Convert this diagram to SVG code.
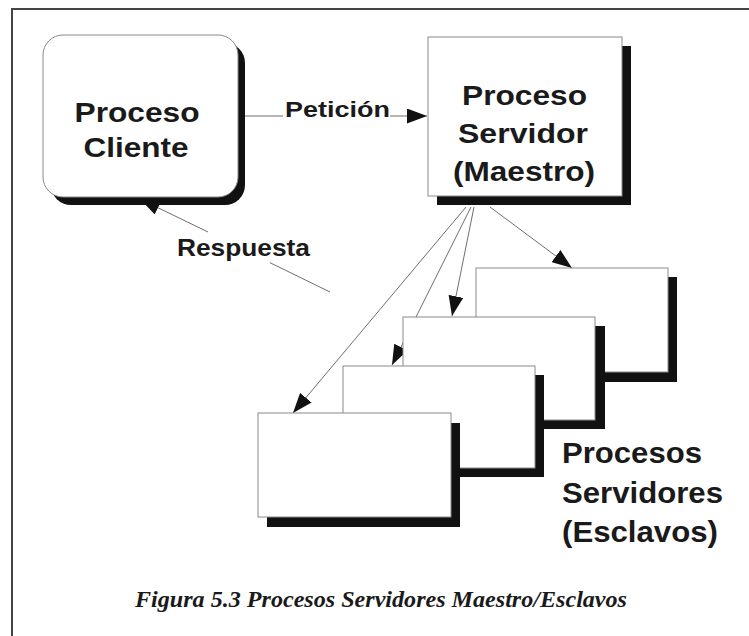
<svg xmlns="http://www.w3.org/2000/svg" width="749" height="636" viewBox="0 0 749 636">
<style>
.frame{stroke:#444;stroke-width:2;fill:none}
.box{fill:#fff;stroke:#8a8a8a;stroke-width:1}
.sh{fill:#111;stroke:none}
.ln{stroke:#6e6e6e;stroke-width:1;fill:none}
.lbl{font-family:"Liberation Sans",Arial,sans-serif;font-weight:bold;fill:#1a1a1a}
.cap{font-family:"Liberation Serif","Times New Roman",serif;font-weight:bold;font-style:italic;fill:#1a1a1a}
</style>
<defs>
<marker id="ah" viewBox="0 0 20 15" refX="20" refY="7.5" markerWidth="20" markerHeight="15" markerUnits="userSpaceOnUse" orient="auto">
<path d="M0,0 L20,7.5 L0,15 z" fill="#111"/>
</marker>
</defs>
<rect width="749" height="636" fill="#fff"/>
<path class="frame" d="M12,636 L12,9 L749,9"/>

<g id="connectors">
<line class="ln" x1="245" y1="116" x2="283" y2="116"/>
<line class="ln" x1="390" y1="116" x2="427" y2="116" marker-end="url(#ah)"/>
<line class="ln" x1="330" y1="292" x2="270" y2="262.7"/>
<line class="ln" x1="208" y1="232" x2="140" y2="199" marker-end="url(#ah)"/>
<line class="ln" x1="466" y1="207" x2="293" y2="413" marker-end="url(#ah)"/>
<line class="ln" x1="471" y1="207" x2="392" y2="365" marker-end="url(#ah)"/>
<line class="ln" x1="474" y1="207" x2="452" y2="316" marker-end="url(#ah)"/>
<line class="ln" x1="490" y1="207" x2="572" y2="268" marker-end="url(#ah)"/>
</g>

<g id="cliente">
<rect class="sh" x="51" y="43" width="194" height="162" rx="20" ry="20"/>
<rect class="box" x="43" y="35" width="195" height="162" rx="20" ry="20"/>
<text class="lbl" x="137" y="122" font-size="28" text-anchor="middle" textLength="125" lengthAdjust="spacingAndGlyphs">Proceso</text>
<text class="lbl" x="136" y="157" font-size="28" text-anchor="middle" textLength="105" lengthAdjust="spacingAndGlyphs">Cliente</text>
</g>

<g id="servidor">
<rect class="sh" x="437" y="46" width="194" height="159"/>
<rect class="box" x="428" y="37" width="194" height="159"/>
<text class="lbl" x="524.5" y="105" font-size="28" text-anchor="middle" textLength="125" lengthAdjust="spacingAndGlyphs">Proceso</text>
<text class="lbl" x="523" y="143" font-size="28" text-anchor="middle" textLength="130" lengthAdjust="spacingAndGlyphs">Servidor</text>
<text class="lbl" x="524" y="181" font-size="28" text-anchor="middle" textLength="142" lengthAdjust="spacingAndGlyphs">(Maestro)</text>
</g>

<g id="esclavo4">
<rect class="sh" x="485" y="277" width="192" height="105"/>
<rect class="box" x="476" y="268" width="192" height="104"/>
</g>
<g id="esclavo3">
<rect class="sh" x="412" y="326" width="193" height="103"/>
<rect class="box" x="403" y="317" width="192" height="103"/>
</g>
<g id="esclavo2">
<rect class="sh" x="352" y="375" width="192" height="102"/>
<rect class="box" x="343" y="366" width="192" height="102"/>
</g>
<g id="esclavo1">
<rect class="sh" x="267" y="423" width="193" height="104"/>
<rect class="box" x="258" y="413" width="193" height="104"/>
</g>

<g id="etiquetas">
<text class="lbl" x="285" y="117" font-size="22" textLength="105" lengthAdjust="spacingAndGlyphs">Petición</text>
<text class="lbl" x="177" y="256" font-size="24" textLength="133" lengthAdjust="spacingAndGlyphs">Respuesta</text>
<text class="lbl" x="562" y="463" font-size="29" textLength="140" lengthAdjust="spacingAndGlyphs">Procesos</text>
<text class="lbl" x="562" y="503" font-size="29" textLength="161" lengthAdjust="spacingAndGlyphs">Servidores</text>
<text class="lbl" x="562" y="542" font-size="29" textLength="156" lengthAdjust="spacingAndGlyphs">(Esclavos)</text>
<text class="cap" x="135" y="607" font-size="24" textLength="492" lengthAdjust="spacingAndGlyphs">Figura 5.3 Procesos Servidores Maestro/Esclavos</text>
</g>
</svg>
